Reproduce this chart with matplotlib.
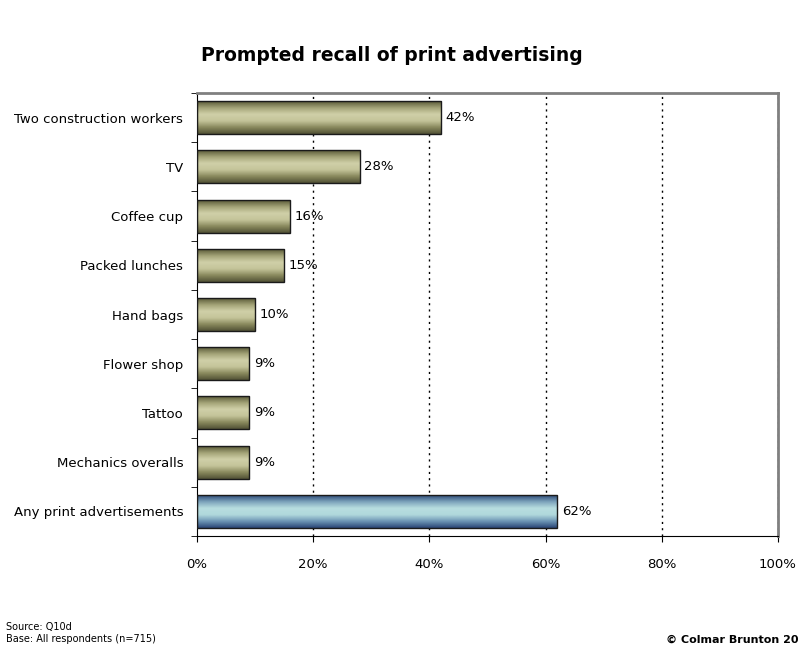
import matplotlib.pyplot as plt
import numpy as np
from matplotlib.colors import LinearSegmentedColormap
from matplotlib.patches import Rectangle

categories = ["Two construction workers", "TV", "Coffee cup", "Packed lunches",
              "Hand bags", "Flower shop", "Tattoo", "Mechanics overalls",
              "Any print advertisements"]
values = [42, 28, 16, 15, 10, 9, 9, 9, 62]
highlight = "Any print advertisements"
xticks = [0, 20, 40, 60, 80, 100]

# vertical shading: dark edges, light middle
olive = LinearSegmentedColormap.from_list(
    "olive", ["#5a5a38", "#a4a478", "#d0d0a8", "#c4c49a", "#8a8a5e", "#525236"])
steel = LinearSegmentedColormap.from_list(
    "steel", ["#2e4c7a", "#7ea4bc", "#b8dee0", "#b0d8dc", "#6c94b4", "#2a4676"])

fig = plt.figure(figsize=(7.99, 6.48), dpi=100)
ax = fig.add_axes([0.2466, 0.1728, 0.9737 - 0.2466, 0.8565 - 0.1728])

n = len(categories)
ypos = np.arange(n)
bar_h = 0.67
grad = np.linspace(0, 1, 64).reshape(-1, 1)

for y, cat, v in zip(ypos, categories, values):
    cmap = steel if cat == highlight else olive
    ax.imshow(grad, cmap=cmap, aspect="auto", interpolation="bilinear",
              extent=[0, v, y + bar_h / 2, y - bar_h / 2], zorder=2)
    ax.add_patch(Rectangle((0, y - bar_h / 2), v, bar_h, fill=False,
                           edgecolor="#1a1a1a", linewidth=1.0, zorder=3))
    ax.text(v + 0.8, y, f"{v}%", va="center", ha="left", fontsize=9.5, zorder=4)

ax.set_xlim(0, 100)
ax.set_ylim(n - 0.5, -0.5)

ax.set_xticks(xticks)
ax.set_xticklabels([f"{t}%" for t in xticks], fontsize=9.5)
ax.tick_params(axis="x", direction="out", length=4, pad=12)

ax.set_yticks(ypos)
ax.set_yticklabels(categories, fontsize=9.5)
ax.tick_params(axis="y", which="major", length=0, pad=10)
ax.set_yticks(np.arange(n + 1) - 0.5, minor=True)
ax.tick_params(axis="y", which="minor", direction="out", length=4)

for t in xticks[1:]:
    ax.axvline(t, color="black", linestyle=(0, (1.5, 3)), linewidth=1.0, zorder=1)

ax.spines["left"].set_color("black")
ax.spines["bottom"].set_color("black")
ax.spines["top"].set_color("#808080")
ax.spines["right"].set_color("#808080")
ax.spines["top"].set_linewidth(2)
ax.spines["right"].set_linewidth(2)

fig.text(0.491, 0.915, "Prompted recall of print advertising",
         ha="center", va="center", fontsize=13.5, fontweight="bold")
fig.text(0.008, 0.023, "Source: Q10d\nBase: All respondents (n=715)",
         ha="left", va="center", fontsize=7, linespacing=1.35)
fig.text(0.834, 0.012, "\u00a9 Colmar Brunton 2008",
         ha="left", va="center", fontsize=8, fontweight="bold")

fig.savefig("out.png", dpi=100)
